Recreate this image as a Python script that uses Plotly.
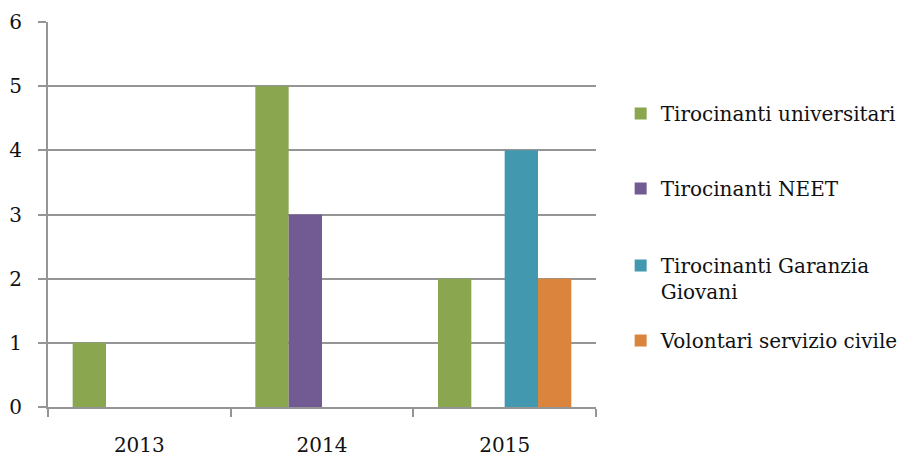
import plotly.graph_objects as go

years = ["2013", "2014", "2015"]
series_names = ["Tirocinanti universitari", "Tirocinanti NEET",
                "Tirocinanti Garanzia<br>Giovani", "Volontari servizio civile"]
universitari = [1, 5, 2]
neet = [0, 3, 0]
garanzia = [0, 0, 4]
volontari = [0, 0, 2]

COLORS = ["#8aa64f", "#725a92", "#4198af", "#db843d"]
FONT = "DejaVu Serif"
GRID = "#959595"

# vertical centre of each legend entry, in pixels from top of the page
legend_px = [113, 188, 265, 340]
PLOT_TOP, PLOT_BOTTOM = 22, 407

fig = go.Figure()
data = [universitari, neet, garanzia, volontari]
legend_ids = ["legend", "legend2", "legend3", "legend4"]
for name, vals, col, lid in zip(series_names, data, COLORS, legend_ids):
    fig.add_trace(go.Bar(x=years, y=vals, name=name, marker=dict(color=col, line=dict(width=0)),
                         legend=lid))

layout_legends = {}
for lid, py in zip(legend_ids, legend_px):
    layout_legends[lid] = dict(
        x=1.045, xanchor="left",
        y=(PLOT_BOTTOM - (py - 19)) / (PLOT_BOTTOM - PLOT_TOP), yanchor="top",
        font=dict(family=FONT, size=20, color="#111"),
        bgcolor="rgba(0,0,0,0)", borderwidth=0, valign="top",
        itemwidth=30, tracegroupgap=0,
    )

# the page body adds an 8px offset, so margins are trimmed to match
fig.update_layout(
    width=914, height=457,
    margin=dict(l=40, r=326, t=14, b=58, autoexpand=False),
    paper_bgcolor="white", plot_bgcolor="white",
    barmode="group", bargap=0.27, bargroupgap=0,
    showlegend=True,
    font=dict(family=FONT, size=20, color="#111"),
    xaxis=dict(showline=True, linecolor=GRID, linewidth=2, ticks="outside",
               tickson="boundaries", ticklen=8, tickwidth=2, tickcolor=GRID,
               showgrid=False, ticklabelstandoff=19, automargin=False),
    yaxis=dict(range=[0, 6], dtick=1, showline=True, linecolor=GRID, linewidth=2,
               ticks="outside", ticklen=8, tickwidth=2, tickcolor=GRID,
               gridcolor=GRID, gridwidth=2, zeroline=False, ticklabelstandoff=12,
               automargin=False),
    **layout_legends,
)

fig.write_html("out.html")
